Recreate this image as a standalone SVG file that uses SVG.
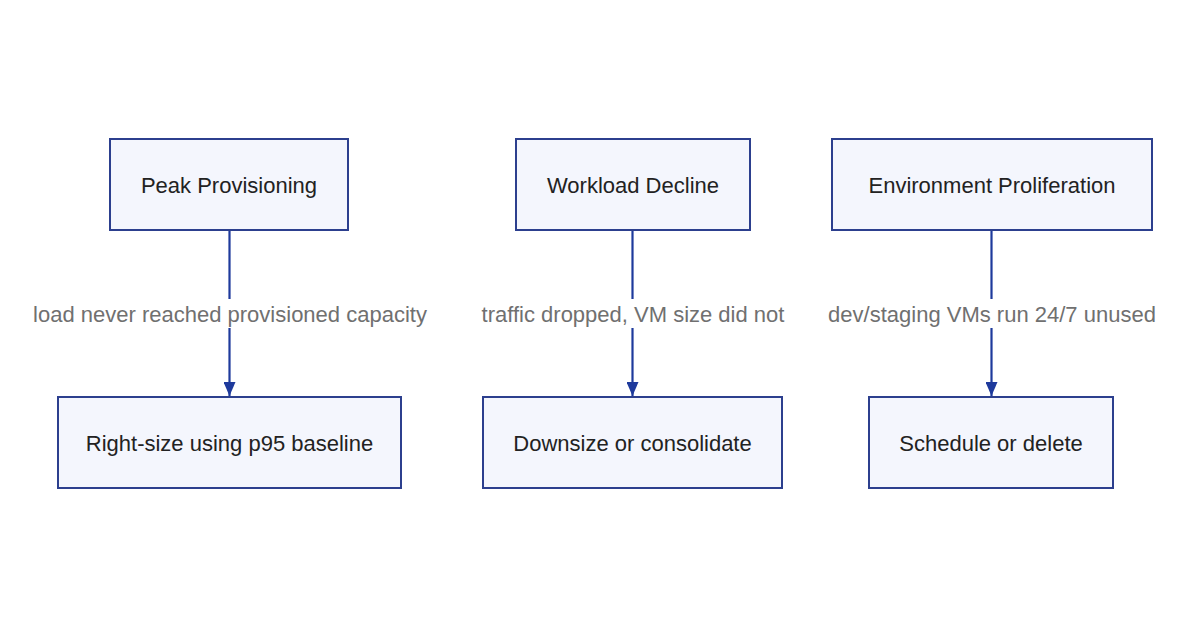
<svg xmlns="http://www.w3.org/2000/svg" width="1200" height="628" viewBox="0 0 1200 628">
  <style>
    .node rect { fill: #f4f6fd; stroke: #2c3f8e; stroke-width: 2; }
    .node text { font-family: "Liberation Sans", Arial, sans-serif; font-size: 22px; fill: #222222; text-anchor: middle; dominant-baseline: central; }
    .edge line { stroke: #1e3a9c; stroke-width: 2.2; }
    .elabel rect { fill: #ffffff; }
    .elabel text { font-family: "Liberation Sans", Arial, sans-serif; font-size: 22px; fill: #707070; text-anchor: middle; dominant-baseline: central; }
  </style>
  <defs>
    <marker id="arrow" viewBox="0 0 14 12" refX="14" refY="6" markerWidth="14" markerHeight="12" markerUnits="userSpaceOnUse" orient="auto">
      <path d="M0,0 L14,6 L0,12 Z" fill="#1e3a9c"/>
    </marker>
  </defs>
  <rect width="1200" height="628" fill="#ffffff"/>

  <g id="connectors">
    <g class="edge">
      <line x1="229.5" y1="231" x2="229.5" y2="396" marker-end="url(#arrow)"/>
      <line x1="632.5" y1="231" x2="632.5" y2="396" marker-end="url(#arrow)"/>
      <line x1="991.5" y1="231" x2="991.5" y2="396" marker-end="url(#arrow)"/>
    </g>
    <g class="elabel">
      <rect x="28" y="299" width="404" height="29"/>
      <text x="230" y="314">load never reached provisioned capacity</text>
      <rect x="476" y="299" width="314" height="29"/>
      <text x="633" y="314">traffic dropped, VM size did not</text>
      <rect x="824" y="299" width="337" height="29"/>
      <text x="992" y="314">dev/staging VMs run 24/7 unused</text>
    </g>
  </g>

  <g id="peak-provisioning" class="node">
    <rect x="110" y="139" width="238" height="91"/>
    <text x="229" y="185">Peak Provisioning</text>
  </g>
  <g id="workload-decline" class="node">
    <rect x="516" y="139" width="234" height="91"/>
    <text x="633" y="185">Workload Decline</text>
  </g>
  <g id="environment-proliferation" class="node">
    <rect x="832" y="139" width="320" height="91"/>
    <text x="992" y="185">Environment Proliferation</text>
  </g>
  <g id="right-size" class="node">
    <rect x="58" y="397" width="343" height="91"/>
    <text x="229.5" y="443">Right-size using p95 baseline</text>
  </g>
  <g id="downsize" class="node">
    <rect x="483" y="397" width="299" height="91"/>
    <text x="632.5" y="443">Downsize or consolidate</text>
  </g>
  <g id="schedule" class="node">
    <rect x="869" y="397" width="244" height="91"/>
    <text x="991" y="443">Schedule or delete</text>
  </g>
</svg>
